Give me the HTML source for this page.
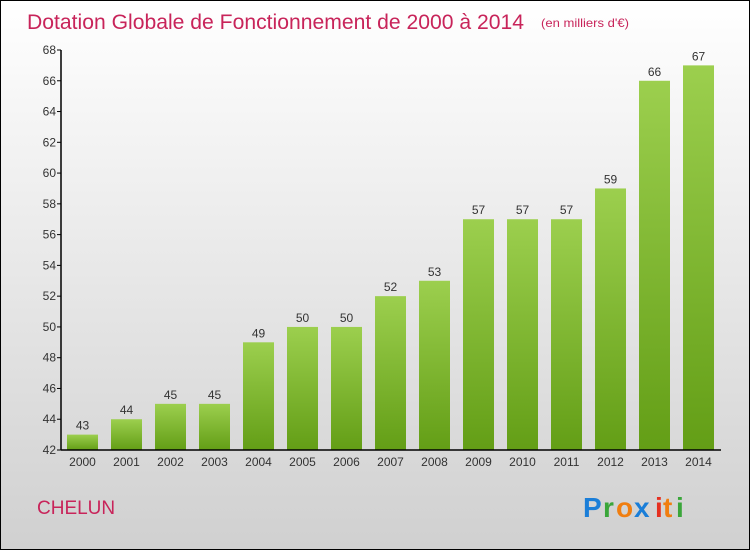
<!DOCTYPE html>
<html><head><meta charset="utf-8"><style>
html,body{margin:0;padding:0;}
body{width:750px;height:550px;overflow:hidden;font-family:"Liberation Sans",sans-serif;}
</style></head><body>
<svg id="chart" width="750" height="550" xmlns="http://www.w3.org/2000/svg">
<defs>
<linearGradient id="bg" x1="0" y1="0" x2="0" y2="1"><stop offset="0" stop-color="#ffffff"/><stop offset="1" stop-color="#d0d0d0"/></linearGradient>
<linearGradient id="bar" x1="0" y1="0" x2="0" y2="1"><stop offset="0" stop-color="#9ccf4e"/><stop offset="1" stop-color="#639e16"/></linearGradient>
</defs>
<rect x="0.5" y="0.5" width="749" height="549" fill="url(#bg)" stroke="#000" stroke-width="1"/>
<text x="27" y="29" font-size="21" fill="#c8245a" font-family="Liberation Sans, sans-serif" textLength="497" lengthAdjust="spacingAndGlyphs">Dotation Globale de Fonctionnement de 2000 à 2014</text>
<text x="541" y="27" font-size="12" fill="#c8245a" textLength="88" lengthAdjust="spacingAndGlyphs">(en milliers d'€)</text>
<text x="37" y="514" font-size="19" fill="#c8245a">CHELUN</text>
<g font-size="28" font-weight="bold" font-family="Liberation Sans, sans-serif">
<text x="583" y="517" fill="#1a7ed8">P</text><text x="603" y="517" fill="#3aa63a">r</text><text x="616" y="517" fill="#f07e10">o</text><text x="634" y="517" fill="#1a7ed8">x</text><text x="655" y="517" fill="#e53020">i</text><text x="663" y="517" fill="#f07e10">t</text><text x="676" y="517" fill="#3aa63a">i</text>
</g>
<g id="plot"></g>
</svg>
<script>
const categories=["2000","2001","2002","2003","2004","2005","2006","2007","2008","2009","2010","2011","2012","2013","2014"];
const values=[43,44,45,45,49,50,50,52,53,57,57,57,59,66,67];
const yTicks=[42,44,46,48,50,52,54,56,58,60,62,64,66,68];
const NS="http://www.w3.org/2000/svg";
const g=document.getElementById('plot');
const y0=450,y1=50,vmin=42,vmax=68;
const y=v=>y0-(v-vmin)/(vmax-vmin)*(y0-y1);
const x=i=>82.5+i*44;
function mk(t,a){const e=document.createElementNS(NS,t);for(const k in a)e.setAttribute(k,a[k]);g.appendChild(e);return e;}
values.forEach((v,i)=>{
 const r=mk('rect',{x:x(i)-15.5,y:y(v),width:31,height:y0-y(v),fill:'url(#bar)'});
 
 
 const t=mk('text',{x:x(i),y:y(v)-5,'font-size':12,fill:'#333','text-anchor':'middle'});
 t.textContent=v;
 
 
 const c=mk('text',{x:x(i),y:466,'font-size':12,fill:'#333','text-anchor':'middle'});
 c.textContent=categories[i];
 
 
});
yTicks.forEach(v=>{
 const l=mk('line',{x1:57,x2:61,y1:y(v),y2:y(v),stroke:'#000'});
 
 
 const t=mk('text',{x:56,y:y(v)+4,'font-size':12,fill:'#333','text-anchor':'end'});
 t.textContent=v;
 
 
});
const ya=mk('line',{x1:61,x2:61,y1:y1,y2:y0,stroke:'#000','stroke-width':1.5});


const xa=mk('line',{x1:61,x2:721,y1:y0,y2:y0,stroke:'#000','stroke-width':1.5});


</script>
</body></html>
